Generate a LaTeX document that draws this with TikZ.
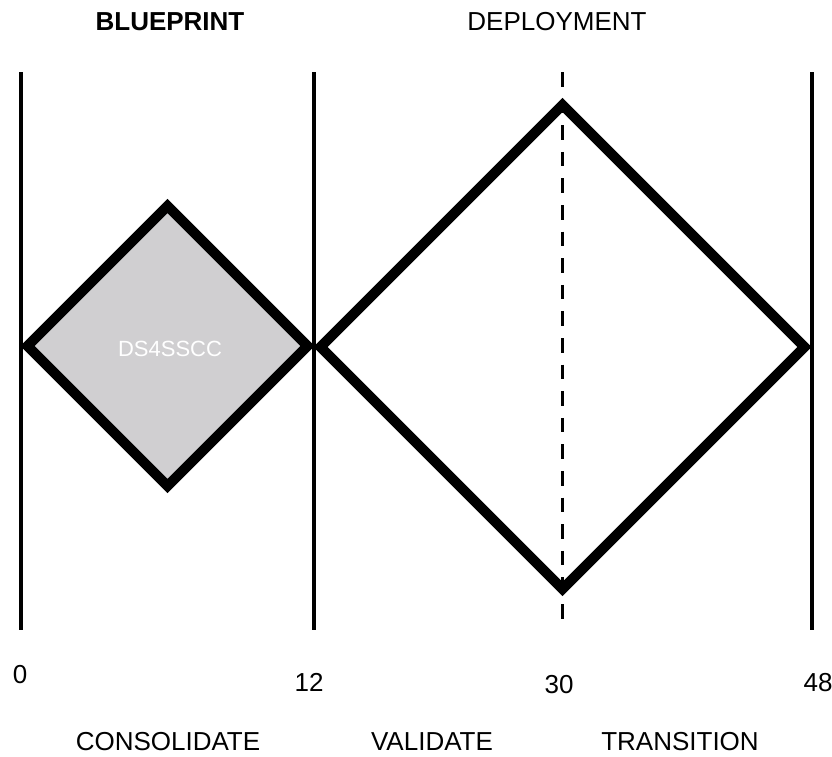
\documentclass[tikz,border=0pt]{standalone}
\usepackage{fontspec}
\setmainfont{Liberation Sans}
\begin{document}
\begin{tikzpicture}[x=1pt,y=-1pt,
  vline/.style={line width=4pt},
  dline/.style={line width=3.4pt,dash pattern=on 14.5pt off 12.1pt},
  dia/.style={line width=10pt,line join=miter},
  lbl/.style={font=\fontsize{26}{30}\selectfont,anchor=base,inner sep=0pt},
  blbl/.style={lbl,font=\fontsize{26}{30}\selectfont\bfseries},
  inlbl/.style={font=\fontsize{22}{26}\selectfont,text=white,anchor=base,inner sep=0pt}]
\definecolor{boxgray}{HTML}{D0CFD1}
\useasboundingbox (0,0) rectangle (832,756);
% vertical lines
\coordinate (a0) at (20.5,72);  \coordinate (b0) at (20.5,630);
\coordinate (a12) at (314,72);  \coordinate (b12) at (314,630);
\coordinate (a30) at (562.5,72); \coordinate (b30) at (562.5,620);
\coordinate (a48) at (812,72);  \coordinate (b48) at (812,630);
\draw[vline] (a0) -- (b0);
\draw[vline] (a12) -- (b12);
\draw[vline] (a48) -- (b48);
% small diamond
\coordinate (sL) at (27.5,346);
\coordinate (sT) at (167.5,206);
\coordinate (sR) at (307.5,346);
\coordinate (sB) at (167.5,486);
\draw[dia,fill=boxgray] (sL) -- (sT) -- (sR) -- (sB) -- cycle;
% big diamond
\coordinate (gL) at (320.5,347);
\coordinate (gT) at (562.5,105);
\coordinate (gR) at (804.5,347);
\coordinate (gB) at (562.5,589);
\draw[dia] (gL) -- (gT) -- (gR) -- (gB) -- cycle;
\draw[dline] (a30) -- (b30);
% texts
\node[inlbl] (ds) at (170,356) {DS4SSCC};
\node[blbl] (blue) at (170,30) {BLUEPRINT};
\node[lbl] (dep) at (557,30) {DEPLOYMENT};
\node[lbl] (n0) at (20,683) {0};
\node[lbl] (n12) at (309,691) {12};
\node[lbl] (n30) at (559,693) {30};
\node[lbl] (n48) at (818,691) {48};
\node[lbl] (cons) at (168,750) {CONSOLIDATE};
\node[lbl] (vali) at (432,750) {VALIDATE};
\node[lbl] (tran) at (680,750) {TRANSITION};
\end{tikzpicture}
\end{document}
